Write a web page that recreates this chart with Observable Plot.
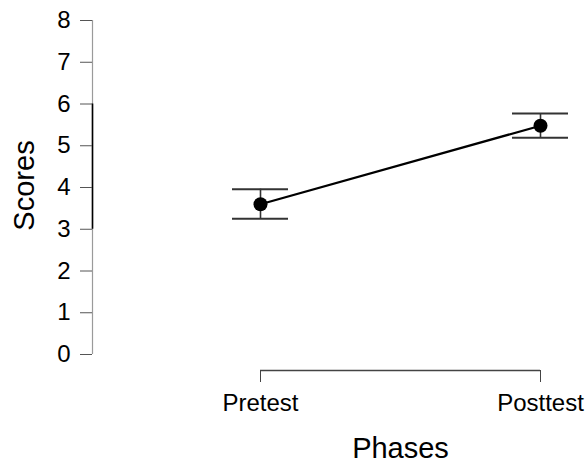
<!DOCTYPE html>
<html>
<head>
<meta charset="utf-8">
<script src="https://cdn.jsdelivr.net/npm/d3@7"></script>
<script src="https://cdn.jsdelivr.net/npm/@observablehq/plot@0.6"></script>
<style>
  html, body { margin: 0; padding: 0; background: #fff; }
</style>
</head>
<body>
<div id="chart"></div>
<script>
const phases = ["Pretest", "Posttest"];
const means = [3.60, 5.48];
const upper = [3.96, 5.77];
const lower = [3.25, 5.19];
const yTicks = [0, 1, 2, 3, 4, 5, 6, 7, 8];
const yLabel = "Scores";
const xLabel = "Phases";

const rows = phases.map((p, i) => ({phase: p, pos: i + 1, mean: means[i], hi: upper[i], lo: lower[i]}));
const yBase = -0.383;      // where the bracketed x axis sits
const axisX0 = 0.4;        // x position of the y axis line
const capHalf = 0.1;
const mid = d3.mean(rows, d => d.pos);

const chart = Plot.plot({
  width: 587,
  height: 464,
  marginLeft: 92,
  marginRight: 47,
  marginTop: 20,
  marginBottom: 94,
  style: {fontFamily: "'Liberation Sans', Arial, sans-serif", background: "#fff", color: "#000"},
  x: {type: "linear", domain: [axisX0, 2]},
  y: {domain: [yBase, 8]},
  marks: [
    // y axis line (gray) with black range segment
    Plot.ruleX([axisX0], {y1: 0, y2: 8, stroke: "#9a9a9a", strokeWidth: 1.2}),
    Plot.ruleX([axisX0], {y1: 3, y2: 6, stroke: "#000", strokeWidth: 1.6}),
    Plot.axisY({ticks: yTicks, tickSize: 12, tickPadding: 10, fontSize: 24, label: null, stroke: "#555"}),
    // x axis bracket
    Plot.ruleY([yBase], {x1: rows[0].pos, x2: rows[rows.length - 1].pos, stroke: "#444", strokeWidth: 1.3}),
    Plot.axisX({ticks: rows.map(d => d.pos), tickFormat: i => phases[i - 1], tickSize: 12, tickPadding: 11, fontSize: 24, label: null, stroke: "#444"}),
    // axis titles
    Plot.text([yLabel], {frameAnchor: "left", textAnchor: "middle", rotate: -90, dx: -68, dy: -10, fontSize: 29, fill: "#000"}),
    Plot.text([xLabel], {x: () => mid, frameAnchor: "bottom", dy: 78, lineAnchor: "middle", fontSize: 29, fill: "#000"}),
    // error bars
    Plot.ruleX(rows, {x: "pos", y1: "lo", y2: "hi", stroke: "#333", strokeWidth: 1.6}),
    Plot.ruleY(rows, {y: "hi", x1: d => d.pos - capHalf, x2: d => d.pos + capHalf, stroke: "#333", strokeWidth: 2}),
    Plot.ruleY(rows, {y: "lo", x1: d => d.pos - capHalf, x2: d => d.pos + capHalf, stroke: "#333", strokeWidth: 2}),
    // mean line and points
    Plot.line(rows, {x: "pos", y: "mean", stroke: "#000", strokeWidth: 2.2}),
    Plot.dot(rows, {x: "pos", y: "mean", r: 7, fill: "#000", stroke: "none"})
  ]
});
document.getElementById("chart").appendChild(chart);
</script>
</body>
</html>
